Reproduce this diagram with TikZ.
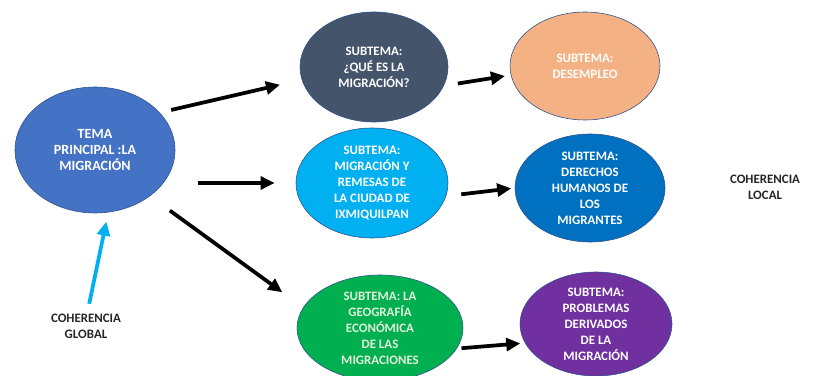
\documentclass[tikz,border=0pt]{standalone}
\usepackage{fontspec}
\setmainfont{Carlito}
\usetikzlibrary{arrows.meta,calc,shapes.geometric}
\definecolor{cmain}{HTML}{4472C4}
\definecolor{cslate}{HTML}{44546A}
\definecolor{clblue}{HTML}{00B0F0}
\definecolor{cgreen}{HTML}{00B050}
\definecolor{corange}{HTML}{F4B183}
\definecolor{cblue}{HTML}{0070C0}
\definecolor{cpurple}{HTML}{7030A0}
\definecolor{cedge}{HTML}{2F528F}
\definecolor{cgtext}{HTML}{E2F0D9}
\tikzset{
  bub/.style={ellipse, draw=cedge, line width=0.5pt, text=white, align=center,
    font=\fontsize{11}{13.7}\selectfont\bfseries, inner sep=0pt},
  lbl/.style={align=center, text=black!85, font=\fontsize{11}{13.7}\selectfont\bfseries},
  arr/.style={line width=3.2pt, -{Triangle[length=12pt,width=11pt]}},
  bluearr/.style={line width=3.2pt, draw=clblue, -{Triangle[length=12pt,width=11pt]}},
}
\begin{document}
\begin{tikzpicture}[x=0.03cm, y=-0.03cm]
\useasboundingbox (0,0) rectangle (821,376);
\node[bub, fill=cmain, font=\fontsize{12}{14}\selectfont\bfseries, minimum width=160*0.03cm, minimum height=126*0.03cm] (main) at (95,150) {TEMA\\PRINCIPAL :LA\\MIGRACIÓN};
\node[bub, fill=cslate, minimum width=148*0.03cm, minimum height=110*0.03cm] (q1) at (374,67) {SUBTEMA:\\¿QUÉ ES LA\\MIGRACIÓN?};
\node[bub, fill=clblue, minimum width=152*0.03cm, minimum height=110*0.03cm] (q2) at (372,183) {SUBTEMA:\\MIGRACIÓN Y\\REMESAS DE\\LA CIUDAD DE\\IXMIQUILPAN};
\node[bub, fill=cgreen, text=cgtext, minimum width=166*0.03cm, minimum height=106*0.03cm] (q3) at (380,328) {SUBTEMA: LA\\GEOGRAFÍA\\ECONÓMICA\\DE LAS\\MIGRACIONES};
\node[bub, fill=corange, minimum width=150*0.03cm, minimum height=108*0.03cm] (des) at (585,66) {SUBTEMA:\\DESEMPLEO};
\node[bub, fill=cblue, minimum width=150*0.03cm, minimum height=108*0.03cm] (der) at (590,188) {SUBTEMA:\\DERECHOS\\HUMANOS DE\\LOS\\MIGRANTES};
\node[bub, fill=cpurple, minimum width=152*0.03cm, minimum height=104*0.03cm] (prob) at (596,324) {SUBTEMA:\\PROBLEMAS\\DERIVADOS\\DE LA\\MIGRACIÓN};
\node[lbl] (glob) at (86,326) {COHERENCIA\\GLOBAL};
\node[lbl] (loc) at (765,187) {COHERENCIA\\LOCAL};
\draw[arr, shorten <=10pt, shorten >=19pt] (main.30) -- (q1.190);
\draw[arr, shorten <=19pt, shorten >=18pt] (main.east |- q2.west) -- (q2.west);
\draw[arr, shorten <=21pt, shorten >=22pt] (main.-40) -- (q3.165);
\draw[arr, shorten <=12pt, shorten >=5pt] (q1.-15) -- (des.187);
\draw[arr, shorten <=13pt, shorten >=3pt] (q2.-10) -- (der.180);
\draw[arr, shorten <=4pt, shorten >=4pt] (q3.-15) -- (prob.195);
\draw[bluearr, shorten <=5pt, shorten >=8pt] ([xshift=2*0.03cm]glob.north) -- (main.-78);
\end{tikzpicture}
\end{document}
